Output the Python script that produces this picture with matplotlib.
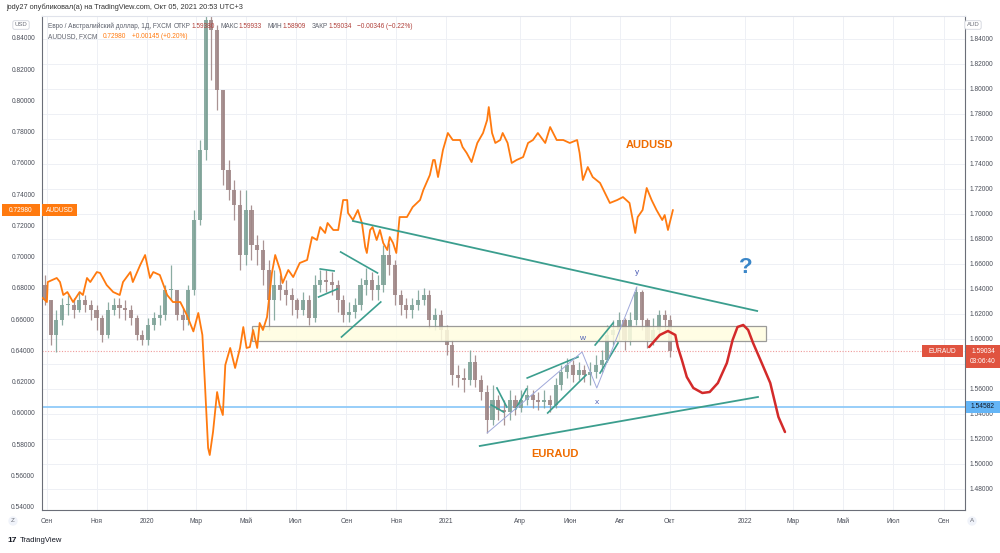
import matplotlib
matplotlib.use("Agg")
import matplotlib.pyplot as plt
import matplotlib.dates as mdates
from matplotlib.patches import Rectangle
import numpy as np
import pandas as pd

plt.rcParams['font.family'] = ['Liberation Sans', 'DejaVu Sans']

# EURAUD weekly candles (right axis)
eur_open0 = 1.6432
eur_close = [1.6312, 1.6032, 1.6152, 1.6272, 1.6272, 1.6232, 1.6312, 1.6272, 1.6232, 1.6168,
             1.6032, 1.6232, 1.6272, 1.6248, 1.6232, 1.6168, 1.6032, 1.5992, 1.6112, 1.6168,
             1.6192, 1.6392, 1.6392, 1.6192, 1.6152, 1.6392, 1.6952, 1.7512, 1.8552, 1.8472,
             1.7992, 1.7352, 1.7192, 1.7072, 1.6672, 1.7032, 1.6752, 1.6712, 1.6552, 1.6312,
             1.6432, 1.6392, 1.6352, 1.6312, 1.6232, 1.6312, 1.6168, 1.6432, 1.6472, 1.6456,
             1.6432, 1.6312, 1.6192, 1.6216, 1.6272, 1.6432, 1.6472, 1.6392, 1.6432, 1.6672,
             1.6592, 1.6352, 1.6272, 1.6232, 1.6272, 1.6312, 1.6352, 1.6152, 1.6192, 1.6072,
             1.5952, 1.5712, 1.5688, 1.5672, 1.5816, 1.5672, 1.5576, 1.5352, 1.5512, 1.5432,
             1.5416, 1.5512, 1.5448, 1.5512, 1.5552, 1.5512, 1.5496, 1.5512, 1.5472, 1.5632,
             1.5736, 1.5792, 1.5712, 1.5752, 1.5712, 1.5736, 1.5792, 1.5832, 1.6032, 1.6072,
             1.6152, 1.5992, 1.6152, 1.6376, 1.6152, 1.5992, 1.6072, 1.6192, 1.6152, 1.5903]
eur_high = [1.6512, 1.6312, 1.6232, 1.6328, 1.6352, 1.6328, 1.6376, 1.6352, 1.6312, 1.6272,
            1.6192, 1.6296, 1.6328, 1.6328, 1.6312, 1.6272, 1.6192, 1.6072, 1.6168, 1.6216,
            1.6272, 1.6432, 1.6592, 1.6392, 1.6248, 1.6432, 1.7032, 1.7592, 1.8592, 1.8712,
            1.8512, 1.7992, 1.7432, 1.7272, 1.7192, 1.7192, 1.7072, 1.6832, 1.6792, 1.6632,
            1.6552, 1.6512, 1.6472, 1.6408, 1.6328, 1.6376, 1.6352, 1.6512, 1.6552, 1.6552,
            1.6536, 1.6472, 1.6352, 1.6296, 1.6328, 1.6488, 1.6568, 1.6536, 1.6512, 1.6752,
            1.6768, 1.6632, 1.6392, 1.6328, 1.6328, 1.6392, 1.6408, 1.6392, 1.6248, 1.6232,
            1.6112, 1.5992, 1.5792, 1.5768, 1.5912, 1.5872, 1.5712, 1.5632, 1.5632, 1.5552,
            1.5512, 1.5592, 1.5552, 1.5592, 1.5632, 1.5592, 1.5576, 1.5592, 1.5552, 1.5688,
            1.5792, 1.5848, 1.5832, 1.5816, 1.5792, 1.5816, 1.5872, 1.5912, 1.6112, 1.6152,
            1.6216, 1.6168, 1.6216, 1.6416, 1.6392, 1.6168, 1.6168, 1.6232, 1.6232, 1.6192]
eur_low = [1.6272, 1.5952, 1.5896, 1.6112, 1.6192, 1.6168, 1.6216, 1.6216, 1.6152, 1.6072,
           1.5976, 1.6008, 1.6192, 1.6168, 1.6152, 1.6112, 1.5992, 1.5952, 1.5952, 1.6072,
           1.6112, 1.6152, 1.6312, 1.6152, 1.6072, 1.6112, 1.6352, 1.6912, 1.7432, 1.8072,
           1.7832, 1.7232, 1.7112, 1.6952, 1.6552, 1.6592, 1.6632, 1.6592, 1.6432, 1.6072,
           1.6152, 1.6312, 1.6272, 1.6192, 1.6168, 1.6192, 1.6112, 1.6136, 1.6376, 1.6376,
           1.6352, 1.6216, 1.6136, 1.6136, 1.6168, 1.6232, 1.6352, 1.6312, 1.6312, 1.6376,
           1.6512, 1.6272, 1.6192, 1.6168, 1.6168, 1.6232, 1.6272, 1.6088, 1.6072, 1.5992,
           1.5872, 1.5632, 1.5616, 1.5576, 1.5632, 1.5616, 1.5512, 1.5248, 1.5312, 1.5352,
           1.5312, 1.5352, 1.5392, 1.5416, 1.5472, 1.5448, 1.5432, 1.5448, 1.5416, 1.5448,
           1.5592, 1.5688, 1.5656, 1.5672, 1.5656, 1.5632, 1.5688, 1.5736, 1.5816, 1.5952,
           1.5992, 1.5912, 1.5952, 1.6112, 1.6072, 1.5928, 1.5952, 1.6032, 1.6072, 1.5856]

# AUDUSD readings (left axis): days after 2019-08-26 and price
aud_day = [1, 6, 7, 18, 22, 26, 31, 38, 46, 50, 55, 59, 67, 71, 79, 87, 95, 99, 108, 111,
           120, 126, 132, 136, 144, 153, 160, 169, 177, 185, 191, 196, 199, 203, 205, 209, 214, 217,
           221, 224, 230, 236, 242, 246, 250, 254, 258, 263, 266, 270, 275, 281, 285, 291, 294, 301,
           307, 315, 324, 330, 336, 340, 346, 349, 356, 362, 368, 373, 374, 380, 386, 391, 395, 397,
           401, 404, 409, 413, 417, 422, 425, 429, 433, 437, 446, 453, 462, 466, 474, 478, 480, 484,
           490, 496, 502, 511, 514, 519, 525, 532, 539, 544, 546, 550, 554, 560, 563, 569, 574, 580,
           588, 594, 600, 606, 615, 621, 629, 637, 645, 654, 657, 661, 667, 673, 682, 688, 694, 703,
           710, 718, 725, 728, 734, 739, 745, 751, 758, 761, 765, 771]
aud_usd = [0.6736, 0.6710, 0.6838, 0.6864, 0.6838, 0.6755, 0.6774, 0.6710, 0.6774, 0.6755,
           0.6864, 0.6838, 0.6902, 0.6896, 0.6819, 0.6774, 0.6755, 0.6838, 0.6902, 0.6838,
           0.6947, 0.7011, 0.6864, 0.6902, 0.6883, 0.6755, 0.6710, 0.6710, 0.6627, 0.6522,
           0.6640, 0.6499, 0.6198, 0.5776, 0.5731, 0.5878, 0.6134, 0.6051, 0.5987, 0.6307,
           0.6416, 0.6288, 0.6416, 0.6550, 0.6416, 0.6422, 0.6531, 0.6416, 0.6576, 0.6531,
           0.6614, 0.6896, 0.7011, 0.6915, 0.6832, 0.6915, 0.6870, 0.6960, 0.6979, 0.7126,
           0.7107, 0.7190, 0.7152, 0.7216, 0.7171, 0.7171, 0.7363, 0.7363, 0.7280, 0.7235,
           0.7299, 0.7216, 0.7062, 0.7024, 0.7171, 0.7190, 0.7107, 0.7171, 0.7088, 0.7043,
           0.7126, 0.7088, 0.7024, 0.7254, 0.7254, 0.7318, 0.7363, 0.7427, 0.7523, 0.7619,
           0.7619, 0.7510, 0.7683, 0.7792, 0.7747, 0.7747, 0.7702, 0.7664, 0.7606, 0.7728,
           0.7792, 0.7875, 0.7958, 0.7792, 0.7728, 0.7747, 0.7792, 0.7728, 0.7600, 0.7619,
           0.7638, 0.7728, 0.7747, 0.7792, 0.7728, 0.7830, 0.7747, 0.7747, 0.7728, 0.7747,
           0.7664, 0.7491, 0.7574, 0.7510, 0.7472, 0.7408, 0.7344, 0.7363, 0.7382, 0.7344,
           0.7152, 0.7254, 0.7299, 0.7440, 0.7363, 0.7299, 0.7235, 0.7267, 0.7171, 0.7298]

candle_dates = pd.date_range('2019-08-29 12:00', '2021-10-02', periods=len(eur_close))
aud_dates = pd.Timestamp('2019-08-26') + pd.to_timedelta(aud_day, unit='D')

# drawings (EURAUD coordinates)
trend_upper = (['2020-09-09', '2022-01-16'], [1.6944, 1.6224])
trend_lower = (['2021-02-11', '2022-01-17'], [1.5144, 1.5536])
zone_dates = ['2020-05-09', '2022-01-27']
zone_prices = [1.5984, 1.6100]
blue_level = 1.54582
last_price = 1.59034
pattern_segments = [
    ('2020-07-31', 1.6560, '2020-08-17', 1.6544),
    ('2020-07-29', 1.6336, '2020-08-21', 1.6400),
    ('2020-08-25', 1.6696, '2020-10-09', 1.6528),
    ('2020-08-26', 1.6016, '2020-10-13', 1.6296),
    ('2021-03-04', 1.5608, '2021-03-16', 1.5456),
    ('2021-02-25', 1.5472, '2021-03-12', 1.5416),
    ('2021-03-27', 1.5440, '2021-04-09', 1.5600),
    ('2021-04-10', 1.5688, '2021-06-11', 1.5856),
    ('2021-05-05', 1.5408, '2021-06-21', 1.5712),
    ('2021-07-02', 1.5952, '2021-07-24', 1.6128),
    ('2021-07-08', 1.5728, '2021-07-30', 1.5968),
]
wxy_dates = ['2021-02-20', '2021-06-16', '2021-07-04', '2021-08-22']
wxy_prices = [1.5248, 1.5896, 1.5608, 1.6416]
wxy_labels = ['w', 'x', 'y']
wxy_label_prices = [1.6000, 1.5488, 1.6528]
forecast_dates = ['2021-09-06', '2021-09-19', '2021-09-29', '2021-10-08', '2021-10-11', '2021-10-16',
                  '2021-10-22', '2021-10-30', '2021-11-10', '2021-11-19', '2021-11-29', '2021-12-10',
                  '2021-12-17', '2021-12-23', '2021-12-30', '2022-01-05', '2022-01-11', '2022-01-20',
                  '2022-02-01', '2022-02-11', '2022-02-19']
forecast_prices = [1.5936, 1.6032, 1.6064, 1.6032, 1.5936, 1.5832, 1.5696, 1.5608, 1.5568, 1.5576,
                   1.5648, 1.5808, 1.5992, 1.6096, 1.6112, 1.6072, 1.5968, 1.5832, 1.5648, 1.5376,
                   1.5256]

month_ticks = ['2019-09-01', '2019-11-01', '2020-01-01', '2020-03-01', '2020-05-01', '2020-07-01',
               '2020-09-01', '2020-11-01', '2021-01-01', '2021-04-01', '2021-06-01', '2021-08-01',
               '2021-10-01', '2022-01-01', '2022-03-01', '2022-05-01', '2022-07-01', '2022-09-01']
month_labels = ['Сен', 'Ноя', '2020', 'Мар', 'Май', 'Июл', 'Сен', 'Ноя', '2021', 'Апр', 'Июн',
                'Авг', 'Окт', '2022', 'Мар', 'Май', 'Июл', 'Сен']

d = lambda s: mdates.date2num(pd.Timestamp(s))

fig = plt.figure(figsize=(10, 5.53), dpi=100)
fig.patch.set_facecolor('white')
ax = fig.add_axes([0.042, 0.0778, 0.923, 0.8933])
ax2 = ax.twinx()

# candles
o = np.array([eur_open0] + eur_close[:-1])
c = np.array(eur_close)
hi = np.array(eur_high)
lo = np.array(eur_low)
xs = mdates.date2num(candle_dates)
up = c >= o
cols = np.where(up, '#7fa398', '#a08787')
ax.vlines(xs, lo, hi, colors=cols, lw=0.9, alpha=0.9, zorder=2)
ax.bar(xs, np.maximum(np.abs(c - o), 0.0008), bottom=np.minimum(o, c), width=5.0,
       color=cols, alpha=0.9, zorder=2, linewidth=0)

ax.axhline(blue_level, color='#90caf9', lw=1.3, zorder=1)
ax.axhline(last_price, color='#ef9a9a', lw=0.8, ls=(0, (1, 1.5)), zorder=1)

ax.set_xlim(d('2019-08-26'), d('2022-09-27'))
ax.set_ylim(1.4632, 1.8584)
ax.yaxis.tick_right()
rt = [v for v in np.arange(1.48, 1.8401, 0.02) if abs(v - 1.58) > 0.001]
ax.set_yticks(rt)
ax.yaxis.set_major_formatter(plt.FormatStrFormatter('%.5f'))
ax.set_yticks([1.58], minor=True)
ax.set_xticks([d(t) for t in month_ticks])
ax.set_xticklabels(month_labels)
ax.tick_params(axis='y', which='both', length=0, pad=3, labelsize=4.8, labelcolor='#4a4e59')
ax.tick_params(axis='x', length=0, pad=6, labelsize=4.8, labelcolor='#4a4e59')
ax.grid(True, which='both', axis='y', color='#eef0f5', lw=0.7, zorder=0)
ax.grid(True, axis='x', color='#eef0f5', lw=0.7, zorder=0)
ax.set_axisbelow(True)
for side in ['left', 'right', 'bottom']:
    ax.spines[side].set_color('#6b6e78')
    ax.spines[side].set_linewidth(0.8)
ax.spines['top'].set_color('#e0e3eb')

# AUDUSD line
ax2.set_autoscale_on(False)
ax2.plot(mdates.date2num(aud_dates), aud_usd, color='#ff7a0f', lw=1.3, zorder=3)
ax2.set_ylim(0.53792, 0.85408)
ax2.yaxis.tick_left()
ax2.set_yticks(np.arange(0.54, 0.8401, 0.02))
ax2.yaxis.set_major_formatter(plt.FormatStrFormatter('%.5f'))
ax2.tick_params(axis='y', length=0, pad=5, labelsize=4.8, labelcolor='#4a4e59')
for sp in ax2.spines.values():
    sp.set_visible(False)

E = ax.transData  # drawings follow EURAUD scale
ax2.add_patch(Rectangle((d(zone_dates[0]), zone_prices[0]), d(zone_dates[1]) - d(zone_dates[0]),
                        zone_prices[1] - zone_prices[0], transform=E, facecolor='#fffde0',
                        edgecolor='#8a8a8a', lw=0.9, alpha=0.85, zorder=1))
teal = '#3b9e8e'
ax2.plot([d(t) for t in trend_upper[0]], trend_upper[1], color=teal, lw=1.3, transform=E, zorder=4)
ax2.plot([d(t) for t in trend_lower[0]], trend_lower[1], color=teal, lw=1.3, transform=E, zorder=4)
for t0, p0, t1, p1 in pattern_segments:
    ax2.plot([d(t0), d(t1)], [p0, p1], color=teal, lw=1.2, transform=E, zorder=4)
ax2.plot([d(t) for t in wxy_dates], wxy_prices, color='#9fa8da', lw=0.7, transform=E, zorder=4)
for t, lab, p in zip(wxy_dates[1:], wxy_labels, wxy_label_prices):
    ax2.text(d(t), p, lab, transform=E, color='#5060b8', fontsize=6, ha='center', va='center', zorder=5)
ax2.plot([d(t) for t in forecast_dates], forecast_prices, color='#d32a2a', lw=1.8,
         transform=E, zorder=5, solid_capstyle='round')

ax2.text(d('2021-09-07'), 1.7552, 'AUDUSD', transform=E, color='#ef6c00', fontsize=8,
         fontweight='bold', ha='center', va='center')
ax2.text(d('2021-05-14'), 1.5080, 'EURAUD', transform=E, color='#ef6c00', fontsize=8,
         fontweight='bold', ha='center', va='center')
ax2.text(d('2022-01-02'), 1.6568, '?', transform=E, color='#3a86c8', fontsize=16,
         fontweight='bold', ha='center', va='center')

# header and legend text
fig.text(0.006, 0.987, 'jody27 опубликовал(а) на TradingView.com, Окт 05, 2021 20:53 UTC+3',
         fontsize=5.3, color='#333333', va='center')

fig.canvas.draw()
renderer = fig.canvas.get_renderer()


def chain(parts, x0, y, size=4.7):
    x = x0
    for s, col, gap in parts:
        t = fig.text(x / 1000, y, s, fontsize=size, color=col, va='center')
        x = t.get_window_extent(renderer).x1 + gap


gray, red, orange = '#5d616c', '#b0403a', '#ff7a0f'
chain([('Евро / Австралийский доллар, 1Д, FXCM', gray, 3),
       ('ОТКР', gray, 0), ('1.59380', red, 6),
       ('МАКС', gray, 0), ('1.59933', red, 6),
       ('МИН', gray, 0), ('1.58909', red, 6),
       ('ЗАКР', gray, 0), ('1.59034', red, 5),
       ('−0.00346 (−0.22%)', red, 0)], 48, 1 - 26 / 553)
chain([('AUDUSD, FXCM', gray, 5), ('0.72980', orange, 6), ('+0.00145 (+0.20%)', orange, 0)],
      48, 1 - 37 / 553)


def tag(axis, price, x0, x1, color, text, tcolor='white', h=12, top=6, sub=None):
    yd = axis.transData.transform((0, price))[1]
    hh = h + (11 if sub else 0)
    fig.patches.append(Rectangle((x0 / 1000, (yd + top - hh) / 553), (x1 - x0) / 1000, hh / 553,
                                 transform=fig.transFigure, facecolor=color, edgecolor='none', zorder=10))
    fig.text((x0 + x1) / 2000, yd / 553, text, color=tcolor, fontsize=4.8, ha='center',
             va='center', zorder=11)
    if sub:
        fig.text((x0 + x1) / 2000, (yd - 10) / 553, sub, color=tcolor, fontsize=4.8, ha='center',
                 va='center', zorder=11)


tag(ax2, 0.72980, 2, 40, '#ff7a0f', '0.72980')
tag(ax2, 0.72980, 42, 77, '#ff7a0f', 'AUDUSD')
tag(ax, last_price, 922, 963, '#e0533f', 'EURAUD')
tag(ax, last_price, 966, 1000, '#e0533f', '1.59034', sub='03:06:40')
tag(ax, blue_level, 966, 1000, '#64b5f6', '1.54582', tcolor='#131722')

# unit boxes and corner buttons
fig.text(0.021, 1 - 25 / 553, 'USD', fontsize=4.3, color='#6b6e78', ha='center', va='center',
         bbox=dict(boxstyle='round,pad=0.3', fc='white', ec='#d0d3db', lw=0.6))
fig.text(0.973, 1 - 25 / 553, 'AUD', fontsize=4.3, color='#6b6e78', ha='center', va='center',
         bbox=dict(boxstyle='round,pad=0.3', fc='white', ec='#d0d3db', lw=0.6))
fig.text(0.013, 1 - 521 / 553, 'Z', fontsize=4.5, color='#6b6e78', ha='center', va='center',
         bbox=dict(boxstyle='circle,pad=0.35', fc='#f0f3fa', ec='none'))
fig.text(0.972, 1 - 521 / 553, 'A', fontsize=4.5, color='#6b6e78', ha='center', va='center',
         bbox=dict(boxstyle='circle,pad=0.35', fc='#f0f3fa', ec='none'))
fig.text(0.007, 1 - 541 / 553, '17', fontsize=6, color='#131722', fontweight='bold', va='center')
fig.text(0.020, 1 - 541 / 553, 'TradingView', fontsize=5.5, color='#131722', va='center')

fig.savefig('out.png', dpi=100, facecolor='white')
